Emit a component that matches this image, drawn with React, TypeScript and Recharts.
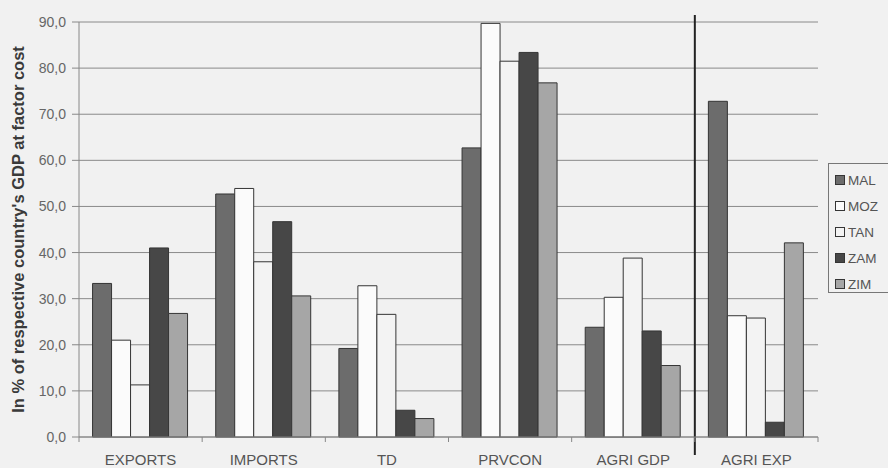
import { BarChart, Bar, XAxis, YAxis, CartesianGrid, ReferenceLine } from 'recharts';

const categories = ['EXPORTS', 'IMPORTS', 'TD', 'PRVCON', 'AGRI GDP', 'AGRI EXP'];
const countries = ['MAL', 'MOZ', 'TAN', 'ZAM', 'ZIM'];
const malValues = [33.3, 52.7, 19.2, 62.7, 23.8, 72.8];
const mozValues = [21.0, 53.9, 32.8, 89.7, 30.3, 26.3];
const tanValues = [11.3, 38.0, 26.6, 81.5, 38.8, 25.8];
const zamValues = [41.0, 46.7, 5.8, 83.4, 23.0, 3.2];
const zimValues = [26.8, 30.6, 4.0, 76.8, 15.5, 42.1];
const yTicks = [0, 10, 20, 30, 40, 50, 60, 70, 80, 90];

const colors: Record<string, string> = {
  MAL: '#6c6c6c',
  MOZ: '#fbfbfb',
  TAN: '#f3f3f3',
  ZAM: '#474747',
  ZIM: '#a6a6a6',
};

const chartData = categories.map((category, i) => ({
  category,
  MAL: malValues[i],
  MOZ: mozValues[i],
  TAN: tanValues[i],
  ZAM: zamValues[i],
  ZIM: zimValues[i],
}));

const font = '"Liberation Sans", Arial, sans-serif';

// Excel-style: tick marks sit between categories, labels in the middle
const BottomTick = ({ x, y, payload, width, visibleTicksCount }: any) => {
  const band = width / visibleTicksCount;
  const left = x - band / 2;
  const last = payload.index === visibleTicksCount - 1;
  return (
    <g>
      <line x1={left} x2={left} y1={y} y2={y + 5} stroke="#888" />
      {last && <line x1={left + band} x2={left + band} y1={y} y2={y + 5} stroke="#888" />}
      <text x={x} y={y + 28} textAnchor="middle" fontSize={15} fill="#555" fontFamily={font}>
        {payload.value}
      </text>
    </g>
  );
};

const YLabel = ({ viewBox }: any) => {
  const cy = viewBox.y + viewBox.height / 2;
  return (
    <text
      x={18}
      y={cy}
      transform={`rotate(-90, 18, ${cy})`}
      textAnchor="middle"
      dominantBaseline="central"
      fontSize={16.5}
      fontWeight="bold"
      fill="#3a3a3a"
      fontFamily={font}
    >
      In % of respective country's GDP at factor cost
    </text>
  );
};

const App = () => {
  return (
    <div style={{ position: 'absolute', left: 0, top: 0, width: 888, height: 468, background: '#f1f1f1', fontFamily: font }}>
      <BarChart
        width={888}
        height={468}
        data={chartData}
        margin={{ top: 22, right: 70, left: 0, bottom: 0 }}
        barCategoryGap="11%"
        barGap={0}
      >
        <CartesianGrid vertical={false} stroke="#8a8a8a" />
        <XAxis
          dataKey="category"
          interval={0}
          tickSize={0}
          tickMargin={0}
          tickLine={false}
          tick={<BottomTick />}
          axisLine={{ stroke: '#888' }}
          height={31}
        />
        <YAxis
          domain={[0, 90]}
          ticks={yTicks}
          width={79}
          tickFormatter={(v: number) => v.toFixed(1).replace('.', ',')}
          tick={{ fontSize: 14, fill: '#666', fontFamily: font }}
          tickSize={7}
          tickMargin={6}
          tickLine={{ stroke: '#888' }}
          axisLine={{ stroke: '#888' }}
          label={<YLabel />}
        />
        {countries.map((c) => (
          <Bar
            key={c}
            dataKey={c}
            fill={colors[c]}
            stroke="#353535"
            strokeWidth={1}
            isAnimationActive={false}
          />
        ))}
        <ReferenceLine
          segment={[{ x: 'AGRI EXP', y: -3.9 }, { x: 'AGRI EXP', y: 91.5 }]}
          position="start"
          ifOverflow="visible"
          stroke="#222"
          strokeWidth={2}
        />
      </BarChart>
      <div
        style={{
          position: 'absolute',
          left: 828,
          top: 163,
          width: 70,
          height: 130,
          border: '1px solid #777',
          boxSizing: 'border-box',
          paddingTop: 3,
        }}
      >
        {countries.map((c) => (
          <div key={c} style={{ display: 'flex', alignItems: 'center', height: 26, fontSize: 13.5, color: '#555' }}>
            <span
              style={{
                display: 'inline-block',
                width: 8,
                height: 8,
                marginLeft: 6,
                marginRight: 3,
                background: colors[c],
                border: '1px solid #353535',
              }}
            />
            {c}
          </div>
        ))}
      </div>
    </div>
  );
};

export default App;
